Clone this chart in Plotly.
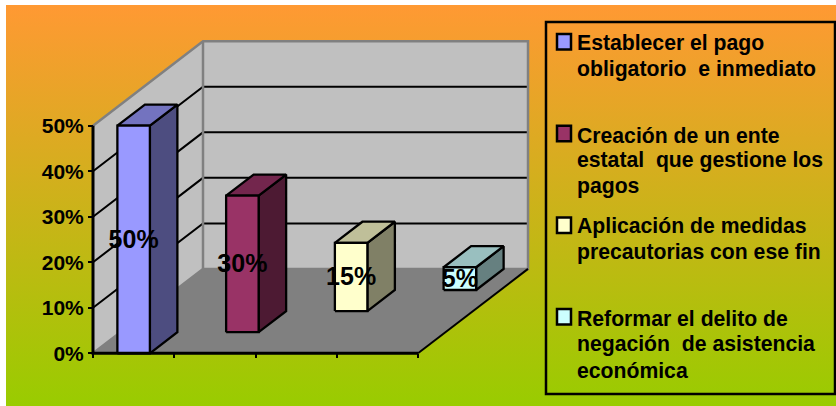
import plotly.graph_objects as go

# Survey shares, one bar per proposal
values = [50, 30, 15, 5]
value_ticks = [0, 10, 20, 30, 40, 50]
value_tick_labels = ["0%", "10%", "20%", "30%", "40%", "50%"]
legend_lines = [
    ["Establecer el pago", "obligatorio  e inmediato"],
    ["Creación de un ente", "estatal  que gestione los", "pagos"],
    ["Aplicación de medidas", "precautorias con ese fin"],
    ["Reformar el delito de", "negación  de asistencia", "económica"],
]
front_colors = ["#9999FF", "#993366", "#FFFFCC", "#CCFFFF"]
top_colors = ["#7373BF", "#73264D", "#BFBF99", "#99BFBF"]
side_colors = ["#4D4D80", "#4D1A33", "#808066", "#668080"]

W, H = 836, 406
FONT = "Liberation Sans"
ROWS = len(values)
Y_MAX = value_ticks[-1]

# Pixel extents of the front plane of the chart
LEFT, RIGHT = 93, 418
BASE, TOP = 353.3, 125.7
PX_PER_CAT = (RIGHT - LEFT) / ROWS
PX_PER_VAL = (BASE - TOP) / Y_MAX
# Oblique shift of one depth row, in axis units
ROW_DX = 27.5 / PX_PER_CAT
ROW_DY = 21.1 / PX_PER_VAL
BAR_WIDTH = 0.4
# Small downward nudge so the label glyphs centre on the face
LABEL_NUDGE = 2.2 / PX_PER_VAL


def project(cat, value, depth):
    """Oblique projection of (category, value, depth) onto the flat axes."""
    return cat + depth * ROW_DX, value + depth * ROW_DY


def path(points, close=False):
    pts = [project(*p) for p in points]
    if close:
        pts.append(pts[0])
    return [p[0] for p in pts], [p[1] for p in pts]


fig = go.Figure()

# Gradient panel behind everything, on its own axes
fig.add_trace(go.Scatter(
    x=[0, 1, 1, 0, 0], y=[0, 0, 1, 1, 0], mode="none", fill="toself",
    fillgradient=dict(type="vertical",
                      colorscale=[[0, "#99CC00"], [1, "#FF9933"]]),
    hoverinfo="skip", showlegend=False,
))


def poly(points, fill, line_color="#000000", width=2):
    x, y = path(points, close=True)
    fig.add_trace(go.Scatter(
        x=x, y=y, xaxis="x2", yaxis="y2", mode="lines", fill="toself",
        fillcolor=fill, line=dict(color=line_color, width=width),
        hoverinfo="skip", showlegend=False,
    ))


def stroke(points, color, width=2):
    x, y = path(points)
    fig.add_trace(go.Scatter(
        x=x, y=y, xaxis="x2", yaxis="y2", mode="lines",
        line=dict(color=color, width=width),
        hoverinfo="skip", showlegend=False,
    ))


# Walls and floor of the 3-D box
poly([(0, 0, 0), (0, Y_MAX, 0), (0, Y_MAX, ROWS), (0, 0, ROWS)], "#C0C0C0", "#C0C0C0", 0)
poly([(0, 0, ROWS), (0, Y_MAX, ROWS), (ROWS, Y_MAX, ROWS), (ROWS, 0, ROWS)], "#C0C0C0", "#C0C0C0", 0)
poly([(0, 0, 0), (ROWS, 0, 0), (ROWS, 0, ROWS), (0, 0, ROWS)], "#808080", "#808080", 0)

# Gridlines run along the side wall and then across the back wall
for v in value_ticks[1:-1]:
    stroke([(0, v, 0), (0, v, ROWS), (ROWS, v, ROWS)], "#000000")

# Box edges
stroke([(0, Y_MAX, 0), (0, Y_MAX, ROWS), (ROWS, Y_MAX, ROWS), (ROWS, 0, ROWS), (0, 0, ROWS), (0, 0, 0)], "#808080", 2.5)
stroke([(0, 0, ROWS), (0, Y_MAX, ROWS)], "#808080", 2.5)
stroke([(ROWS, 0, 0), (ROWS, 0, ROWS)], "#000000", 2)

# One block per proposal, each in its own category and depth row
for i, v in enumerate(values):
    c0, c1 = i + 0.5 - BAR_WIDTH / 2, i + 0.5 + BAR_WIDTH / 2
    d0, d1 = i, i + 1
    poly([(c1, 0, d0), (c1, 0, d1), (c1, v, d1), (c1, v, d0)], side_colors[i], width=2.3)
    poly([(c0, v, d0), (c1, v, d0), (c1, v, d1), (c0, v, d1)], top_colors[i], width=2.3)
    poly([(c0, 0, d0), (c1, 0, d0), (c1, v, d0), (c0, v, d0)], front_colors[i], width=2.3)

# Front axis lines stop at the box corners and stay on top of the box
stroke([(0, Y_MAX, 0), (0, 0, 0), (ROWS, 0, 0)], "#000000", 3)

# Value labels sit on the middle of each block's front face
label_pos = [project(i + 0.5, v / 2 - LABEL_NUDGE, i) for i, v in enumerate(values)]
fig.add_trace(go.Scatter(
    x=[p[0] for p in label_pos], y=[p[1] for p in label_pos],
    xaxis="x2", yaxis="y2", mode="text",
    text=[f"{v}%" for v in values], textposition="middle center",
    textfont=dict(family=FONT, size=25, color="#000000", weight="bold"),
    hoverinfo="skip", showlegend=False,
))


def px_x(x):
    return x / W


def px_y(y):
    return 1 - y / H


shapes = [dict(type="rect", xref="paper", yref="paper", x0=px_x(546), x1=px_x(835),
               y0=px_y(394), y1=px_y(22), line=dict(color="#000000", width=2.5),
               fillcolor="rgba(0,0,0,0)")]
annotations = []

# Hand-placed legend: swatch plus one text row per line of the entry
ENTRY_GAP, LINE_GAP = 91.7, 25.8
for i, lines in enumerate(legend_lines):
    baseline = 50 + i * ENTRY_GAP
    shapes.append(dict(type="rect", xref="paper", yref="paper",
                       x0=px_x(557), x1=px_x(571), y0=px_y(baseline - 0.5), y1=px_y(baseline - 16),
                       line=dict(color="#000000", width=2.5), fillcolor=front_colors[i]))
    for j, line in enumerate(lines):
        annotations.append(dict(
            text=line, xref="paper", yref="paper", showarrow=False,
            x=px_x(577), xanchor="left", y=px_y(baseline + j * LINE_GAP + 5), yanchor="bottom",
            borderpad=0, borderwidth=0,
            font=dict(family=FONT, size=21.2, color="#000000", weight="bold"),
        ))

fig.update_layout(
    template="none",
    width=W, height=H, autosize=False,
    margin=dict(l=0, r=0, t=0, b=0, pad=0, autoexpand=False),
    paper_bgcolor="#FFFFFF", plot_bgcolor="rgba(0,0,0,0)",
    showlegend=False, shapes=shapes, annotations=annotations,
    xaxis=dict(domain=[6 / W, 1], range=[0, 1], visible=False, fixedrange=True),
    yaxis=dict(domain=[0, 1 - 5 / H], range=[0, 1], visible=False, fixedrange=True),
    # Chart axes span the whole page so the projected box is never clipped;
    # their ticks are pinned to the front corner of the box.
    xaxis2=dict(domain=[0, 1], range=[-LEFT / PX_PER_CAT, (W - LEFT) / PX_PER_CAT],
                anchor="free", position=1 - BASE / H, automargin=False,
                tickmode="array", tickvals=list(range(ROWS + 1)), showticklabels=False,
                ticks="outside", ticklen=4, tickwidth=2, tickcolor="#000000",
                showline=False, showgrid=False, zeroline=False, fixedrange=True),
    yaxis2=dict(domain=[0, 1], range=[-(H - BASE) / PX_PER_VAL, BASE / PX_PER_VAL],
                anchor="free", position=LEFT / W, automargin=False,
                tickmode="array", tickvals=value_ticks, ticktext=value_tick_labels,
                ticks="outside", ticklen=5, tickwidth=2, tickcolor="#000000",
                tickfont=dict(family=FONT, size=21, color="#000000", weight="bold"),
                showline=False, showgrid=False, zeroline=False, fixedrange=True),
)

fig.write_html("out.html")
